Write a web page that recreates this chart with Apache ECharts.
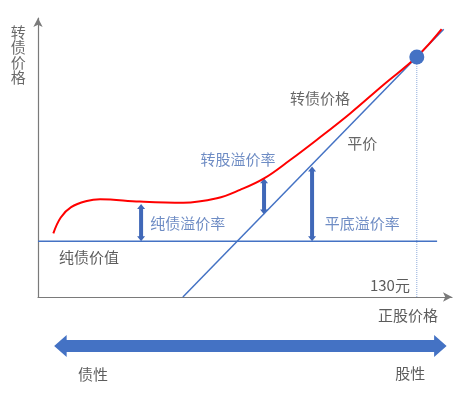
<!DOCTYPE html>
<html>
<head>
<meta charset="utf-8">
<script src="https://cdn.jsdelivr.net/npm/echarts@6/dist/echarts.min.js"></script>
<style>
html, body { margin: 0; padding: 0; background: #fff; }
#main { width: 470px; height: 400px; }
</style>
</head>
<body>
<div id="main"></div>
<script>
// 转债价格曲线（红线）
var cbCurve = [
	[3.7, 22.8], [5.5, 28.5], [8, 32.2], [11.8, 34.4], [15, 35], [24.6, 34.2],
	[35.1, 33.8], [43.2, 35.4], [48.8, 38.4], [54.6, 42.5], [60.9, 49.1],
	[67.3, 56.3], [75.4, 65.8], [83.4, 76], [91.5, 86.1], [97.5, 96]
];
// 纯债价值（水平线）
var bondFloor = [[0, 20], [96.4, 20]];
// 平价（斜线）
var parityLine = [[35, 0], [98, 96]];
// 130元 对应点
var keyPoint = [[91.5, 86]];
var keyDrop = [[91.5, 0], [91.5, 86]];
// 溢价率箭头 [x, 下端, 上端]
var premiumArrows = [
	[24.9, 20, 33.3],
	[54.6, 29.6, 42.6],
	[66.2, 20, 46.8]
];
// 底部债性-股性箭头
var bottomArrow = [[3.9, 98.7, 0]];
// 文字标注
var plotLabels = [
	{ name: '转债价格', value: [68.1, 71.3], color: '#404040' },
	{ name: '平价', value: [78.3, 55.2], color: '#404040' },
	{ name: '转股溢价率', value: [48.3, 49.5], color: '#4a6fb5' },
	{ name: '纯债溢价率', value: [36.2, 26.5], color: '#4a6fb5' },
	{ name: '平底溢价率', value: [78.3, 26.5], color: '#4a6fb5' },
	{ name: '纯债价值', value: [12.3, 14.3], color: '#333333' },
	{ name: '130元', value: [85, 4.3], color: '#333333' },
	{ name: '正股价格', value: [89.4, -6.5], color: '#333333' },
	{ name: '转\n债\n价\n格', value: [-4.8, 86.7], color: '#444444' }
];
var bottomLabels = [
	{ name: '债性', value: [13.3, -1.75], color: '#333333' },
	{ name: '股性', value: [89.9, -1.7], color: '#333333' }
];

var blue = '#4472c4';
var myChart = echarts.init(document.getElementById('main'));

//双向箭头
function doubleArrow(a, b, half, headHalf, headLen, color) {
	var len = Math.sqrt((b[0] - a[0]) * (b[0] - a[0]) + (b[1] - a[1]) * (b[1] - a[1]));
	var ux = (b[0] - a[0]) / len, uy = (b[1] - a[1]) / len;
	var nx = -uy, ny = ux;
	function p(base, along, side) {
		return [base[0] + ux * along + nx * side, base[1] + uy * along + ny * side];
	}
	var pts = [
		a,
		p(a, headLen, headHalf), p(a, headLen, half),
		p(b, -headLen, half), p(b, -headLen, headHalf),
		b,
		p(b, -headLen, -headHalf), p(b, -headLen, -half),
		p(a, headLen, -half), p(a, headLen, -headHalf)
	];
	return { type: 'polygon', shape: { points: pts }, style: { fill: color } };
}

var option = {
	animation: false,
	textStyle: { fontFamily: '"Noto Sans CJK SC", sans-serif' },
	grid: [
		{ left: 38, width: 414, top: 18, height: 279 },
		{ left: 38, width: 414, top: 330, height: 32 }
	],
	xAxis: [{
		gridIndex: 0, type: 'value', min: 0, max: 100,
		axisLine: { lineStyle: { color: '#7a7a7a', width: 1.2 }, symbol: ['none', 'arrow'], symbolSize: [7, 9] },
		axisTick: { show: false }, axisLabel: { show: false }, splitLine: { show: false }
	}, {
		gridIndex: 1, type: 'value', min: 0, max: 100, show: false
	}],
	yAxis: [{
		gridIndex: 0, type: 'value', min: 0, max: 100,
		axisLine: { show: true, lineStyle: { color: '#7a7a7a', width: 1.2 }, symbol: ['none', 'arrow'], symbolSize: [7, 9] },
		axisTick: { show: false }, axisLabel: { show: false }, splitLine: { show: false }
	}, {
		gridIndex: 1, type: 'value', min: -1, max: 1, show: false
	}],
	series: [{
		type: 'line', data: keyDrop, symbol: 'none',
		lineStyle: { color: '#8eaadb', width: 1, type: 'dotted' }
	}, {
		type: 'line', data: bondFloor, symbol: 'none',
		lineStyle: { color: blue, width: 1.5 }
	}, {
		type: 'line', data: parityLine, symbol: 'none',
		lineStyle: { color: blue, width: 1.5 }
	}, {
		type: 'line', data: cbCurve, symbol: 'none', smooth: 0.4,
		lineStyle: { color: '#ff0000', width: 2 }
	}, {
		type: 'scatter', data: keyPoint, symbolSize: 15,
		itemStyle: { color: blue, opacity: 1 }, z: 5
	}, {
		type: 'custom', data: premiumArrows,
		renderItem: function(params, api) {
			var a = api.coord([api.value(0), api.value(1)]);
			var b = api.coord([api.value(0), api.value(2)]);
			return doubleArrow(a, b, 2, 4, 5, '#4068b8');
		}
	}, {
		type: 'custom', xAxisIndex: 1, yAxisIndex: 1, data: bottomArrow,
		renderItem: function(params, api) {
			var a = api.coord([api.value(0), api.value(2)]);
			var b = api.coord([api.value(1), api.value(2)]);
			return doubleArrow(a, b, 6, 11, 12.5, blue);
		}
	}, {
		type: 'scatter', symbolSize: 0, clip: false, z: 10,
		data: plotLabels.map(function(d) {
			return { name: d.name, value: d.value, label: { color: d.color } };
		}),
		label: {
			show: true, position: 'inside', fontSize: 15, lineHeight: 15,
			formatter: function(p) { return p.name; }
		}
	}, {
		type: 'scatter', xAxisIndex: 1, yAxisIndex: 1, symbolSize: 0, clip: false,
		data: bottomLabels.map(function(d) {
			return { name: d.name, value: d.value, label: { color: d.color } };
		}),
		label: {
			show: true, position: 'inside', fontSize: 15,
			formatter: function(p) { return p.name; }
		}
	}]
};

myChart.setOption(option);
</script>
</body>
</html>
